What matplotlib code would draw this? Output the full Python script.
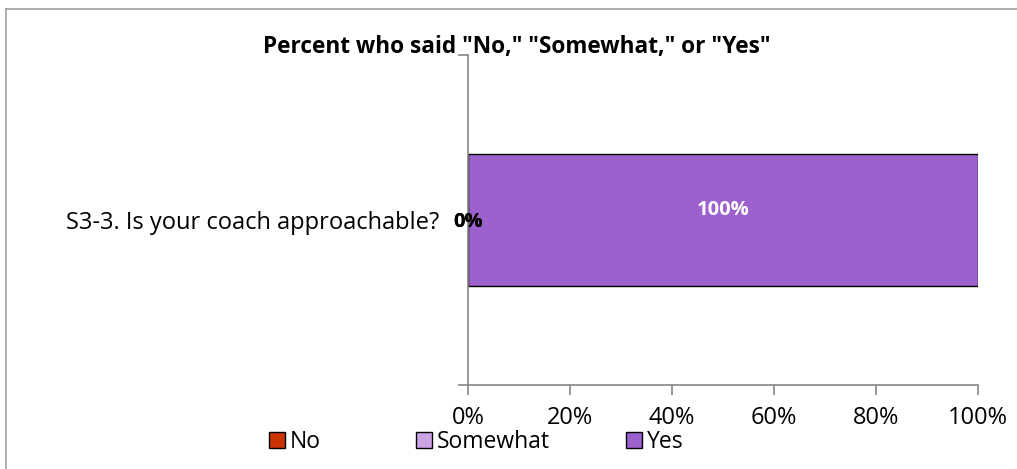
import matplotlib
matplotlib.use("Agg")
import matplotlib.pyplot as plt
from matplotlib.lines import Line2D

plt.rcParams['font.family'] = ['Open Sans', 'DejaVu Sans']

# Survey data
question = ["S3-3. Is your coach approachable?"]
series_names = ["No", "Somewhat", "Yes"]
series_values = [[0], [0], [100]]
series_colors = ["#CC3300", "#CCA3E6", "#9C61CD"]
label_colors = ["black", "black", "white"]
label_offsets = [-0.005, -0.005, 0.03]
x_ticks = [0, 20, 40, 60, 80, 100]
x_tick_labels = ["0%", "20%", "40%", "60%", "80%", "100%"]

W, H = 1017, 469
fig = plt.figure(figsize=(W / 100, H / 100), dpi=100)
ax = fig.add_axes([468 / W, 84 / H, 510 / W, 330 / H])

axis_gray = "#868686"
ypos = list(range(len(question)))
left = [0] * len(question)
for name, vals, color, lc, off in zip(series_names, series_values, series_colors,
                                      label_colors, label_offsets):
    ax.barh(ypos, vals, left=left, height=0.4, color=color, edgecolor="black",
            linewidth=1.0, label=name)
    for y, l, v in zip(ypos, left, vals):
        ax.text(l + v / 2, y - off, f"{v:.0f}%", ha="center", va="center",
                fontsize=14.5, fontweight="bold", color=lc)
    left = [a + b for a, b in zip(left, vals)]

ax.set_xlim(0, 100)
ax.set_ylim(-0.5, 0.5)
ax.invert_yaxis()
ax.set_xticks(x_ticks)
ax.set_xticklabels(x_tick_labels, fontsize=17)
ax.set_yticks(ypos)
ax.set_yticklabels(question, fontsize=17)
ax.set_yticks([-0.5, 0.5], minor=True)

for s in ["top", "right"]:
    ax.spines[s].set_visible(False)
for s in ["left", "bottom"]:
    ax.spines[s].set_color(axis_gray)
    ax.spines[s].set_linewidth(1.2)

ax.tick_params(axis="x", direction="out", length=7, color=axis_gray, width=1.2, pad=8)
ax.tick_params(axis="y", which="major", length=0, pad=21)
ax.tick_params(axis="y", which="minor", direction="out", length=7, color=axis_gray, width=1.2)

fig.text(517 / W, 1 - 47 / H, 'Percent who said "No," "Somewhat," or "Yes"',
         ha="center", va="center", fontsize=16.3, fontweight="bold")

# Legend entries, each anchored at its own spot along the bottom
handles, labels = ax.get_legend_handles_labels()
legend_x = [262, 409, 619]
for h, lab, lx in zip(handles, labels, legend_x):
    lg = fig.legend([h], [lab], loc="center left", bbox_to_anchor=(lx / W, 1 - 442 / H),
                    frameon=False, fontsize=16.5, handlelength=0.7, handleheight=0.7,
                    handletextpad=0.2, borderpad=0.3, borderaxespad=0)

# Chart frame: left and top edges
fig.add_artist(Line2D([6 / W, 6 / W], [0, 1 - 9 / H], transform=fig.transFigure,
                      color="#A0A0A0", linewidth=1.2))
fig.add_artist(Line2D([6 / W, 1], [1 - 9 / H, 1 - 9 / H], transform=fig.transFigure,
                      color="#A0A0A0", linewidth=1.2))

fig.savefig("out.png", dpi=100)
